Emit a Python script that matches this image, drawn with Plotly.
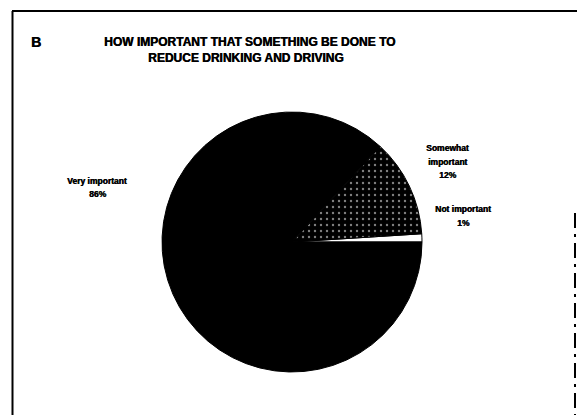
import plotly.graph_objects as go

W, H = 577, 415

# Data
categories = ["Not important", "Somewhat important", "Very important"]
label_lines = [["Not important"], ["Somewhat", "important"], ["Very important"]]
values = [1, 12, 86]

title_letter = "B"
title_lines = ["HOW IMPORTANT THAT SOMETHING BE DONE TO", "REDUCE DRINKING AND DRIVING"]

def px_x(x):
    return x / W

def px_y(y):
    return 1 - y / H

# first slice (counterclockwise) should start at 3 o'clock
rot = 90 - 360.0 * values[0] / sum(values)

fig = go.Figure()
fig.add_trace(go.Pie(
    labels=categories,
    values=values,
    sort=False,
    direction="counterclockwise",
    rotation=rot,
    textinfo="none",
    hoverinfo="label+value",
    showlegend=False,
    marker=dict(
        colors=["#ffffff", "#000000", "#000000"],
        line=dict(color="#000000", width=1),
        pattern=dict(
            shape=["", ".", ""],
            fgcolor="#ffffff",
            bgcolor=["#ffffff", "#000000", "#000000"],
            size=6,
            solidity=0.12,
            fillmode="overlay",
        ),
    ),
    domain=dict(x=[px_x(162), px_x(422)], y=[px_y(372), px_y(112)]),
))

label_font = dict(family="Liberation Sans, Arial, sans-serif", size=8.5, color="#000000",
                  shadow="0.5px 0px 0px #000")
label_pos = {"Not important": (463, 209), "Somewhat important": (447, 148), "Very important": (97, 181)}
LINE_H = 13.5
anns = []
for cat, lines, v in zip(categories, label_lines, values):
    x, y0 = label_pos[cat]
    for i, ln in enumerate(lines + [f"{v}%"]):
        anns.append(dict(
            x=px_x(x), y=px_y(y0 + i * LINE_H), xref="paper", yref="paper",
            text="<b>" + ln + "</b>",
            showarrow=False, font=label_font, align="center",
            xanchor="center", yanchor="middle",
        ))

title_font = dict(family="Liberation Sans, Arial, sans-serif", size=12, color="#000000",
                  shadow="0.5px 0px 0px #000")
anns.append(dict(x=px_x(36), y=px_y(42), xref="paper", yref="paper",
                 text="<b>" + title_letter + "</b>", showarrow=False,
                 font=dict(family="Liberation Sans, Arial, sans-serif", size=14, color="#000",
                           shadow="0.6px 0px 0px #000"),
                 xanchor="center", yanchor="middle"))
anns.append(dict(x=px_x(249), y=px_y(42), xref="paper", yref="paper",
                 text="<b>" + title_lines[0] + "</b>", showarrow=False, font=title_font,
                 xanchor="center", yanchor="middle"))
anns.append(dict(x=px_x(246), y=px_y(58), xref="paper", yref="paper",
                 text="<b>" + title_lines[1] + "</b>", showarrow=False, font=title_font,
                 xanchor="center", yanchor="middle"))

shapes = [
    dict(type="line", xref="paper", yref="paper", x0=px_x(12), x1=px_x(577), y0=px_y(11), y1=px_y(11),
         line=dict(color="#000", width=2)),
    dict(type="line", xref="paper", yref="paper", x0=px_x(12.5), x1=px_x(12.5), y0=px_y(11), y1=px_y(415),
         line=dict(color="#000", width=2)),
    dict(type="line", xref="paper", yref="paper", x0=px_x(575), x1=px_x(575), y0=px_y(213), y1=px_y(415),
         line=dict(color="#000", width=2, dash="longdashdot")),
]

fig.update_layout(
    width=W, height=H,
    margin=dict(l=0, r=0, t=0, b=0),
    paper_bgcolor="#ffffff",
    plot_bgcolor="#ffffff",
    annotations=anns,
    shapes=shapes,
)

fig.write_html(
    "out.html",
    config={"displayModeBar": False},
    post_script="document.body.style.margin='0';document.body.style.overflow='hidden';",
)
